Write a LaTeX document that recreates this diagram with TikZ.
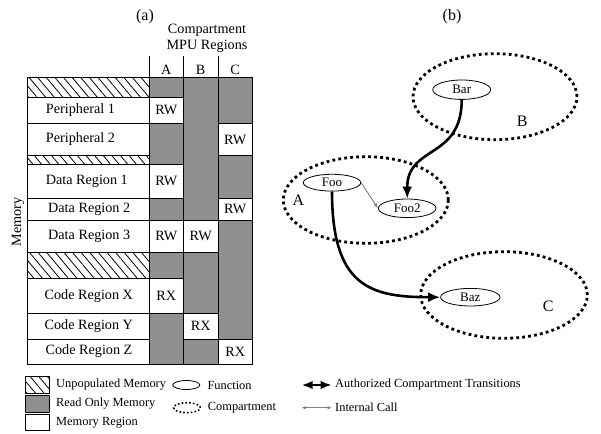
\documentclass[tikz,border=0pt]{standalone}
\usepackage{fontspec}
\setmainfont{Liberation Serif}
\usetikzlibrary{patterns.meta,arrows.meta,shapes.geometric}
\definecolor{rogray}{RGB}{143,143,143}
\definecolor{callgray}{RGB}{130,130,130}
\begin{document}
\begin{tikzpicture}[x=1pt,y=-1pt,
  cell/.style={draw=black,line width=0.9pt},
  hatch/.style={cell,pattern={Lines[angle=-50,distance=6.6pt,line width=0.8pt]}},
  rocol/.style={draw=black,line width=0.9pt,fill=rogray},
  wcell/.style={draw=black,line width=0.9pt,fill=white},
  tt/.style={inner sep=0pt,font=\fontsize{14.2}{16}\selectfont},
  lt/.style={inner sep=0pt,anchor=west,font=\fontsize{12.4}{14}\selectfont},
  fn/.style={ellipse,draw=black,line width=0.8pt,inner sep=0pt,font=\fontsize{13}{15}\selectfont},
  comp/.style={ellipse,draw=black,line width=2.8pt,dash pattern=on 2.8pt off 3.2pt,inner sep=0pt},
  trans/.style={line width=2.6pt,-{Latex[length=12pt,width=10pt]}},
  internal/.style={draw=callgray,line width=1pt,-{Latex[length=5pt,width=4pt]}}]
\useasboundingbox (0,0) rectangle (601,433);
% ---------- (a) ----------
\node[inner sep=0pt,font=\fontsize{16}{18}\selectfont] (la) at (145,17) {(a)};
\node[tt] (hdr1) at (207,30.7) {Compartment};
\node[tt] (hdr2) at (207,46) {MPU Regions};
\node[tt] (ha) at (166.3,70) {A};
\node[tt] (hb) at (200.7,70) {B};
\node[tt] (hc) at (235,70) {C};
\draw[line width=0.9pt] (149.3,56) -- (149.3,77.3) (183.3,56) -- (183.3,77.3) (218,56) -- (218,77.3);
\node[tt,rotate=90] (mem) at (18,222) {Memory};
% text column rows
\draw[hatch] (27.3,77.3) rectangle (149.3,97.3);
\draw[cell] (27.3,97.3) rectangle (149.3,123.3);
\draw[cell] (27.3,123.3) rectangle (149.3,155.7);
\draw[hatch] (27.3,155.7) rectangle (149.3,164.3);
\draw[cell] (27.3,164.3) rectangle (149.3,198.3);
\draw[cell] (27.3,198.3) rectangle (149.3,220);
\draw[cell] (27.3,220) rectangle (149.3,252.3);
\draw[hatch] (27.3,252.3) rectangle (149.3,278.3);
\draw[cell] (27.3,278.3) rectangle (149.3,313.3);
\draw[cell] (27.3,313.3) rectangle (149.3,339);
\draw[cell] (27.3,339) rectangle (149.3,364);
\node[tt] (r1) at (80.5,110.3) {Peripheral 1};
\node[tt] (r2) at (80.5,139.5) {Peripheral 2};
\node[tt] (r3) at (86.8,181.3) {Data Region 1};
\node[tt] (r4) at (89.2,209.2) {Data Region 2};
\node[tt] (r5) at (89.2,236.2) {Data Region 3};
\node[tt] (r6) at (88.8,295.8) {Code Region X};
\node[tt] (r7) at (88.8,326.2) {Code Region Y};
\node[tt] (r8) at (89,351.5) {Code Region Z};
% compartment columns
\draw[rocol] (149.3,77.3) rectangle (183.3,364);
\draw[rocol] (183.3,77.3) rectangle (218,364);
\draw[rocol] (218,77.3) rectangle (252.3,364);
% column A
\draw[wcell] (149.3,97.3) rectangle (183.3,123.3);
\draw[wcell] (149.3,164.3) rectangle (183.3,198.3);
\draw[wcell] (149.3,220) rectangle (183.3,252.3);
\draw[wcell] (149.3,278.3) rectangle (183.3,313.3);
\node[tt] (a1) at (166.3,110.3) {RW};
\node[tt] (a2) at (166.3,181.3) {RW};
\node[tt] (a3) at (166.3,236.2) {RW};
\node[tt] (a4) at (166.3,295.8) {RX};
% column B
\draw[wcell] (183.3,220) rectangle (218,252.3);
\draw[wcell] (183.3,313.3) rectangle (218,339);
\node[tt] (b1) at (200.7,236.2) {RW};
\node[tt] (b2) at (200.7,326.2) {RX};
% column C
\draw[wcell] (218,123.3) rectangle (252.3,155.7);
\draw[wcell] (218,198.3) rectangle (252.3,220);
\draw[wcell] (218,339) rectangle (252.3,364);
\node[tt] (c1) at (235.2,139.5) {RW};
\node[tt] (c2) at (235.2,209.2) {RW};
\node[tt] (c3) at (235.2,351.5) {RX};
% ---------- (b) ----------
\node[inner sep=0pt,font=\fontsize{16}{18}\selectfont] (lb) at (452,17) {(b)};
\node[comp,minimum width=164pt,minimum height=86pt] (compB) at (495,96.7) {};
\node[comp,minimum width=165pt,minimum height=86.6pt] (compA) at (365.8,200) {};
\node[comp,minimum width=166.6pt,minimum height=86.6pt] (compC) at (504,295) {};
\node[inner sep=0pt,font=\fontsize{16}{18}\selectfont] (lB) at (522.3,121.7) {B};
\node[inner sep=0pt,font=\fontsize{16}{18}\selectfont] (lA) at (298.3,200.7) {A};
\node[inner sep=0pt,font=\fontsize{16}{18}\selectfont] (lC) at (548.3,306.7) {C};
\node[fn,minimum width=58pt,minimum height=19.4pt] (bar) at (461.7,89.7) {Bar};
\node[fn,minimum width=57.4pt,minimum height=16.8pt] (foo) at (332,182.7) {Foo};
\node[fn,minimum width=57.6pt,minimum height=18.6pt] (foo2) at (407.2,208.3) {Foo2};
\node[fn,minimum width=59.4pt,minimum height=17.6pt] (baz) at (470.3,297.2) {Baz};
\draw[trans] (bar.south) .. controls +(0,60) and +(0,-54) .. (foo2.north);
\draw[trans] (foo.south) .. controls +(0,95) and +(-70,0) .. (baz.west);
\draw[internal] (foo.east) -- (foo2.west);
% ---------- legend ----------
\draw[hatch] (25.7,376.7) rectangle (49.3,393.3);
\draw[rocol] (25.7,395) rectangle (49.3,412.7);
\draw[cell] (25.7,414) rectangle (49.3,430);
\node[lt] (l1) at (56,385) {Unpopulated Memory};
\node[lt] (l2) at (56,403.3) {Read Only Memory};
\node[lt] (l3) at (56,422.7) {Memory Region};
\node[ellipse,draw=black,line width=0.8pt,inner sep=0pt,minimum width=27pt,minimum height=9pt] (lfn) at (186.3,385) {};
\node[lt] (l4) at (207.3,385) {Function};
\node[ellipse,draw=black,line width=1.6pt,dash pattern=on 1.6pt off 2.2pt,inner sep=0pt,minimum width=27pt,minimum height=10pt] (lcomp) at (187,407.7) {};
\node[lt] (l5) at (207.7,407.7) {Compartment};
\coordinate (t1) at (301.7,385);
\coordinate (t2) at (331.7,385);
\draw[line width=2pt,{Latex[length=11pt,width=8.5pt]}-{Latex[length=11pt,width=8.5pt]}] (t1) -- (t2);
\node[lt] (l6) at (335,385) {Authorized Compartment Transitions};
\coordinate (i1) at (301.7,407.7);
\coordinate (i2) at (331.7,407.7);
\draw[draw=callgray,line width=1pt,{Latex[length=4pt,width=3.5pt]}-{Latex[length=4pt,width=3.5pt]}] (i1) -- (i2);
\node[lt] (l7) at (335,407.7) {Internal Call};
\end{tikzpicture}
\end{document}
